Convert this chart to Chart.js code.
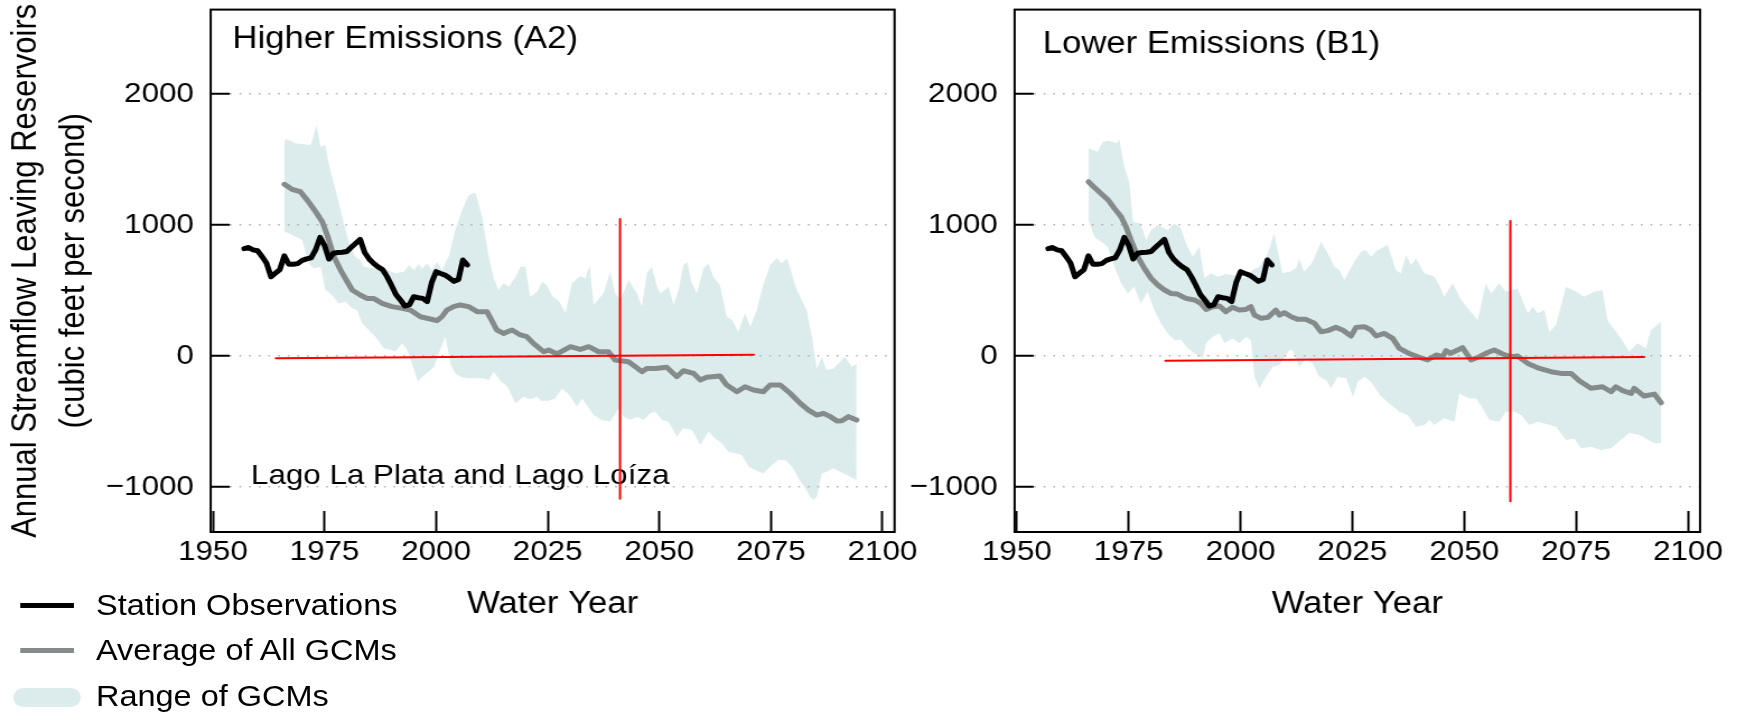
<!DOCTYPE html>
<html lang="en">
<head>
  <meta charset="UTF-8" />
  <title>Annual Streamflow Leaving Reservoirs</title>
  <script src="https://cdn.jsdelivr.net/npm/chart.js"></script>
  <style>
    html, body {
      margin: 0;
      padding: 0;
      background: #fff;
    }
    body {
      width: 1744px;
      height: 712px;
      overflow: hidden;
      font-family: "Liberation Sans", Arial, Helvetica, sans-serif;
    }
    /* the source figure is a little wider than tall, so draw narrow and widen */
    #stage {
      position: absolute;
      left: 0;
      top: 0;
      width: 1557px;
      height: 712px;
      transform: scaleX(1.12);
      transform-origin: 0 0;
    }
    #stage canvas {
      position: absolute;
      top: 0;
    }
    #leftPanel { left: 0; }
    #rightPanel { left: 790px; }
    .swatch {
      position: absolute;
    }
    .legend-text {
      position: absolute;
      left: 85.7px;
      font-size: 29px;
      line-height: 34px;
      color: #000;
      white-space: nowrap;
    }
  </style>
</head>
<body>

<div id="stage">
  <canvas id="leftPanel" width="830" height="712"></canvas>
  <canvas id="rightPanel" width="767" height="712"></canvas>

  <div class="swatch" style="left:17.9px; top:603.3px; width:47.9px; height:5px; background:#000;"></div>
  <div class="legend-text" style="top:587.6px;">Station Observations</div>
  <div class="swatch" style="left:17.9px; top:648.3px; width:47.9px; height:5px; background:#858b8a;"></div>
  <div class="legend-text" style="top:632.9px;">Average of All GCMs</div>
  <div class="swatch" style="left:12px; top:688.3px; width:59.8px; height:18.4px; border-radius:9px; background:#dcecec;"></div>
  <div class="legend-text" style="top:679.2px;">Range of GCMs</div>
</div>

<script>
  const xTicks = [1950, 1975, 2000, 2025, 2050, 2075, 2100];
  const yTicks = [-1000, 0, 1000, 2000];

  // station observations (same record in both panels)
  const obsYears = [1957, 1958, 1959, 1960, 1961, 1962, 1963, 1964, 1965, 1966,
    1967, 1968, 1969, 1970, 1971, 1972, 1973, 1974, 1975, 1976,
    1977, 1978, 1979, 1980, 1981, 1982, 1983, 1984, 1985, 1986,
    1987, 1988, 1989, 1990, 1991, 1992, 1993, 1994, 1995, 1996,
    1997, 1998, 1999, 2000, 2001, 2002, 2003, 2004, 2005, 2006, 2007];
  const obsValues = [820, 828, 810, 803, 760, 710, 605, 632, 660, 765,
    700, 700, 705, 730, 742, 750, 810, 905, 845, 740,
    785, 790, 792, 798, 830, 860, 890, 790, 740, 707,
    680, 660, 606, 540, 470, 428, 382, 390, 453, 445,
    440, 415, 560, 644, 630, 618, 595, 570, 585, 733, 695];

  // Higher Emissions (A2)
  const a2MeanYears = [1966, 1967.7, 1969.6, 1971.1, 1973, 1974.5, 1975.6, 1977.1, 1978.6, 1980.1,
    1981.2, 1983, 1984.5, 1986, 1987.9, 1990.1, 1992.4, 1994.2, 1996.5, 1998.7,
    2000.2, 2001.3, 2002.4, 2003.9, 2005.4, 2007.3, 2009.2, 2011.4, 2013.6, 2015.1,
    2017, 2018.9, 2020.3, 2021.8, 2024.1, 2025.2, 2027.1, 2030.1, 2032.3, 2034.2,
    2036.4, 2038.6, 2040.1, 2043.1, 2044.6, 2046.1, 2047.2, 2049.1, 2051.7, 2053.9,
    2055.4, 2057.7, 2059.2, 2060.6, 2063.6, 2065.1, 2067.4, 2069.2, 2071.1, 2073.3,
    2074.8, 2077.1, 2079.3, 2081.6, 2083.4, 2085.3, 2086.8, 2088.3, 2089.8, 2090.9,
    2092.4, 2094.2];
  const a2MeanValues = [1310, 1272, 1254, 1191, 1102, 1025, 924, 758, 656, 567,
    504, 466, 440, 440, 402, 377, 364, 351, 300, 283,
    270, 300, 351, 377, 390, 377, 339, 339, 199, 173,
    199, 161, 148, 97, 33, 46, 16, 72, 51, 72,
    33, 33, -30, -43, -81, -119, -94, -94, -86, -157,
    -112, -132, -183, -162, -152, -221, -272, -234, -259, -272,
    -221, -221, -284, -361, -412, -450, -437, -462, -495, -493,
    -462, -488];

  const a2UpperYears = [1966, 1967, 1968.5, 1970, 1971.9, 1972.6, 1973.2, 1974.1, 1975.2, 1976,
    1977.5, 1978.6, 1979.7, 1980.8, 1981.9, 1983, 1983.8, 1985.7, 1987.2, 1989,
    1990.9, 1992.8, 1993.9, 1995, 1996.1, 1996.9, 1998, 1999.1, 2000.2, 2001.3,
    2002.8, 2004.3, 2005.8, 2007.3, 2008.8, 2010.3, 2011.8, 2012.9, 2014, 2015.1,
    2016.3, 2017.8, 2018.9, 2020, 2021.1, 2022.6, 2023.7, 2024.8, 2026, 2027.5,
    2029, 2030.4, 2032.3, 2033.4, 2034.4, 2035.3, 2037.5, 2039, 2040.1, 2041.3,
    2043.1, 2045, 2046.1, 2047.2, 2048.3, 2049.5, 2050.2, 2052.1, 2053.2, 2054.3,
    2055.4, 2056.2, 2057.3, 2058.4, 2059.9, 2061, 2062.1, 2063.6, 2065.1, 2066.3,
    2067.7, 2069.2, 2070.4, 2071.8, 2073.3, 2074.8, 2076.3, 2077.4, 2078.6, 2080.8,
    2083, 2084.2, 2085.3, 2086.4, 2087.5, 2089, 2090.5, 2091.6, 2093.1, 2094.2];
  const a2UpperValues = [1653, 1648, 1623, 1618, 1610, 1686, 1763, 1597, 1610, 1457,
    1267, 1114, 961, 834, 758, 733, 682, 669, 682, 656,
    631, 644, 694, 656, 702, 669, 707, 656, 720, 656,
    758, 961, 1114, 1229, 1246, 1063, 758, 593, 504, 555,
    529, 606, 682, 682, 453, 491, 567, 540, 460, 420,
    330, 555, 611, 593, 695, 389, 479, 644, 479, 428,
    580, 479, 377, 631, 682, 529, 479, 529, 389, 504,
    695, 720, 555, 479, 669, 707, 606, 542, 300, 275,
    186, 326, 224, 351, 542, 695, 746, 707, 746, 504,
    351, 148, -94, -5, -107, -94, -43, -5, -81, -56];

  const a2LowerYears = [1966, 1967, 1968.5, 1970, 1971.5, 1972.6, 1974.1, 1975.2, 1976.7, 1978.2,
    1979.7, 1981.2, 1982.3, 1983.4, 1984.9, 1986.4, 1988.3, 1989.8, 1990.9, 1992.4,
    1993.5, 1994.6, 1995.9, 1996.9, 1998.3, 1999.6, 2000.9, 2002.1, 2003.2, 2004.3,
    2005.5, 2007.1, 2008.8, 2010.5, 2011.8, 2012.9, 2014.4, 2015.9, 2017.8, 2019.6,
    2021.1, 2022.6, 2023.5, 2025.2, 2026.7, 2028.2, 2029.9, 2031.5, 2032.7, 2035.3,
    2037.1, 2039, 2040.9, 2042, 2043.5, 2045, 2046.5, 2048, 2049.1, 2050.6,
    2052.1, 2053.9, 2055.4, 2057.3, 2059.2, 2061, 2062.5, 2064, 2065.5, 2067,
    2068.5, 2070, 2071.5, 2073.3, 2074.8, 2076.7, 2078.2, 2079.7, 2081.2, 2082.7,
    2083.8, 2084.5, 2085.3, 2086.4, 2087.5, 2089, 2090.5, 2092, 2094.2];
  const a2LowerValues = [950, 936, 911, 885, 707, 669, 682, 504, 466, 402,
    415, 364, 351, 250, 199, 148, 59, 46, 34, 97,
    46, -56, -195, -157, -120, -80, 46, 148, -60, -132,
    -157, -170, -170, -170, -183, -120, -190, -230, -361, -310,
    -330, -310, -340, -340, -323, -250, -297, -386, -323, -450,
    -488, -501, -399, -462, -488, -462, -488, -437, -424, -488,
    -501, -615, -551, -564, -679, -577, -628, -666, -729, -742,
    -755, -844, -869, -895, -844, -793, -793, -844, -933, -1009,
    -1073, -1098, -1073, -895, -882, -857, -882, -908, -946];

  const a2CrossYears = [1964.1, 2071.2];
  const a2CrossValues = [-17, 11];
  const a2MarkYears = [2041.2, 2041.2];
  const a2MarkValues = [1046, -1088];

  // Lower Emissions (B1)
  const b1MeanYears = [1966, 1967.3, 1968.8, 1970.3, 1971.8, 1973.3, 1974.4, 1975.5, 1977, 1978.5,
    1980, 1981.5, 1983, 1984.4, 1985.9, 1987.8, 1989.7, 1991.1, 1992.3, 1993.8,
    1995.3, 1996.7, 1998.2, 1999.7, 2001.2, 2002.3, 2003.1, 2004.6, 2006.1, 2007.9,
    2008.7, 2009.8, 2011.3, 2012.8, 2014.6, 2016.5, 2018, 2019.5, 2021.3, 2022.8,
    2024.7, 2025.8, 2027.7, 2029.1, 2030.3, 2032.1, 2034, 2035.5, 2037.3, 2039.6,
    2041.8, 2043.7, 2045.2, 2045.9, 2047, 2049.6, 2051.5, 2053.4, 2054.8, 2056.7,
    2058.6, 2060.4, 2061.9, 2064.2, 2066.8, 2069.4, 2071.6, 2073.9, 2075.7, 2078.3,
    2080.9, 2082.8, 2083.9, 2085.4, 2087.3, 2088, 2090.2, 2092.5, 2094];
  const b1MeanValues = [1330, 1287, 1241, 1195, 1127, 1063, 987, 885, 758, 669,
    593, 542, 504, 478, 473, 440, 428, 402, 356, 377,
    382, 338, 372, 351, 356, 377, 313, 288, 295, 351,
    313, 331, 300, 280, 280, 250, 186, 194, 219, 199,
    153, 219, 224, 199, 153, 173, 135, 59, 26, -5,
    -30, 8, -5, 41, 21, 64, -30, -5, 21, 46,
    16, -5, 0, -56, -94, -119, -132, -132, -188, -246,
    -234, -272, -234, -264, -285, -246, -305, -290, -356];

  const b1UpperYears = [1966, 1968, 1969.2, 1970.7, 1972.2, 1972.9, 1974, 1975.1, 1976, 1977.7,
    1978.9, 1980, 1981.5, 1983.7, 1985.2, 1986.7, 1987.8, 1989.3, 1990.8, 1991.9,
    1993.4, 1994.9, 1996.7, 1998.2, 1999.7, 2001.2, 2002.7, 2004.2, 2006.1, 2007.5,
    2008.7, 2009.4, 2010.9, 2012.4, 2013.1, 2014.2, 2016.1, 2018, 2019.5, 2021,
    2022.1, 2023.2, 2025.4, 2026.9, 2028, 2029.2, 2030.6, 2032.9, 2034.7, 2035.8,
    2037, 2038.1, 2039.2, 2041.1, 2043.3, 2044.4, 2045.5, 2047.4, 2049.3, 2051.1,
    2053, 2054.8, 2056, 2057.8, 2059.3, 2061.9, 2064.2, 2065.3, 2066.4, 2067.9,
    2069, 2070.5, 2072.7, 2075, 2076.8, 2079.1, 2080.9, 2082, 2085, 2086.9,
    2088.7, 2090.6, 2091.7, 2094];
  const b1UpperValues = [1585, 1559, 1635, 1643, 1623, 1653, 1445, 1330, 1025, 1012,
    885, 961, 1000, 961, 1012, 974, 860, 758, 834, 593,
    631, 606, 626, 618, 606, 593, 656, 682, 784, 936,
    745, 631, 644, 669, 745, 644, 720, 872, 784, 682,
    656, 580, 720, 796, 809, 758, 809, 847, 656, 631,
    771, 694, 745, 631, 606, 542, 453, 555, 428, 351,
    275, 555, 478, 555, 491, 516, 326, 377, 326, 351,
    186, 237, 529, 491, 453, 491, 504, 275, 135, 34,
    97, 59, 199, 262];

  const b1LowerYears = [1966, 1967.3, 1968.8, 1970.3, 1971.8, 1973.3, 1974.8, 1976.2, 1977.7, 1979.2,
    1980.7, 1982.2, 1983.7, 1985.2, 1986.7, 1988.2, 1989.7, 1991.5, 1992.3, 1993.8,
    1995.3, 1996.4, 1998.2, 1999.7, 2001.2, 2002.3, 2003.1, 2004.2, 2005.7, 2007.2,
    2008.7, 2010.9, 2011.6, 2013.1, 2014.6, 2016.1, 2017.6, 2019.1, 2020.2, 2021.7,
    2023.6, 2025.1, 2026.2, 2027.7, 2029.2, 2031.2, 2033.2, 2035.5, 2037.3, 2039.2,
    2041.1, 2042.2, 2043.3, 2045.5, 2047.8, 2048.9, 2051.1, 2052.6, 2053.7, 2055.6,
    2057.8, 2059.3, 2061.2, 2062.7, 2064.5, 2066.4, 2067.9, 2070.5, 2072.7, 2074.6,
    2076.1, 2078.3, 2080.5, 2082.8, 2085, 2086.9, 2089.1, 2090.6, 2092.5, 2094];
  const b1LowerValues = [1038, 911, 873, 834, 682, 555, 478, 529, 402, 491,
    351, 250, 173, 122, 122, 59, 21, -18, 97, 148,
    173, 97, 135, 97, 148, 122, -157, -246, -157, -81,
    -68, 46, 46, -81, -18, -56, -157, -183, -246, -157,
    -170, -310, -196, -157, -200, -300, -361, -424, -450, -539,
    -526, -488, -526, -475, -501, -285, -323, -323, -374, -488,
    -501, -424, -424, -450, -526, -501, -514, -539, -640, -628,
    -704, -691, -717, -704, -640, -585, -602, -628, -666, -661];

  const b1CrossYears = [1983.2, 2090.2];
  const b1CrossValues = [-35, -7];
  const b1MarkYears = [2060.3, 2060.3];
  const b1MarkValues = [1030, -1107];

  const FONT = '"Liberation Sans", Arial, Helvetica, sans-serif';
  const FILL = '#dcecec';
  const GREY = '#858b8a';
  const RED = '#ff0000';

  Chart.defaults.font.family = FONT;
  Chart.defaults.color = '#000';

  const pts = (xs, ys) => xs.map((x, i) => ({ x: x, y: ys[i] }));

  // black box round the plot area
  const framePlugin = {
    id: 'frame',
    afterDatasetsDraw(chart) {
      const { ctx, chartArea: a } = chart;
      ctx.save();
      ctx.strokeStyle = '#000';
      ctx.lineWidth = 2;
      ctx.strokeRect(a.left, a.top, a.right - a.left, a.bottom - a.top);
      ctx.restore();
    }
  };

  // panel labels written inside the plot area
  const panelTextPlugin = {
    id: 'panelText',
    beforeDatasetsDraw(chart, args, opts) {
      const { ctx, chartArea } = chart;
      ctx.save();
      ctx.fillStyle = '#000';
      ctx.textBaseline = 'alphabetic';
      ctx.textAlign = 'left';
      (opts.items || []).forEach(it => {
        ctx.font = it.size + 'px ' + FONT;
        ctx.fillText(it.text, chartArea.left + it.dx, it.y);
      });
      ctx.restore();
    }
  };

  // fixed axis boxes, no extra room for overhanging labels
  function fixBox(scale, size) {
    if (scale.isHorizontal()) scale.height = size;
    else scale.width = size;
    scale.paddingTop = 0;
    scale.paddingBottom = 0;
    scale.paddingLeft = 0;
    scale.paddingRight = 0;
  }

  function makePanel(id, cfg) {
    const line = (data, color, width, order) => ({
      data: data,
      borderColor: color,
      borderWidth: width,
      pointRadius: 0,
      fill: false,
      tension: 0,
      borderJoinStyle: 'round',
      borderCapStyle: 'round',
      order: order
    });

    return new Chart(document.getElementById(id), {
      type: 'line',
      data: {
        datasets: [
          {
            data: pts(cfg.upper[0], cfg.upper[1]),
            borderColor: 'rgba(0,0,0,0)',
            borderWidth: 0,
            backgroundColor: FILL,
            pointRadius: 0,
            fill: '+1',
            tension: 0,
            order: 5
          },
          {
            data: pts(cfg.lower[0], cfg.lower[1]),
            borderColor: 'rgba(0,0,0,0)',
            borderWidth: 0,
            pointRadius: 0,
            fill: false,
            tension: 0,
            order: 6
          },
          line(pts(cfg.mean[0], cfg.mean[1]), GREY, 5, 3),
          line(pts(obsYears, obsValues), '#000', 5, 2),
          line(pts(cfg.cross[0], cfg.cross[1]), RED, 2, 1),
          line(pts(cfg.mark[0], cfg.mark[1]), RED, 2, 1)
        ]
      },
      options: {
        responsive: false,
        animation: false,
        events: [],
        layout: {
          padding: { left: 0, right: cfg.padRight, top: 9.6, bottom: 80 }
        },
        plugins: {
          legend: { display: false },
          tooltip: { enabled: false },
          filler: { drawTime: 'beforeDraw' },
          panelText: { items: cfg.texts }
        },
        scales: {
          x: {
            type: 'linear',
            position: 'bottom',
            min: 1949.5,
            max: 2102.7,
            afterBuildTicks: s => { s.ticks = xTicks.map(v => ({ value: v })); },
            afterFit: s => fixBox(s, 100),
            grid: {
              drawOnChartArea: false,
              drawTicks: true,
              tickLength: -21,
              tickWidth: 2,
              tickColor: '#000'
            },
            border: { display: false },
            ticks: {
              autoSkip: false,
              maxRotation: 0,
              padding: 24,
              font: { size: 28 },
              callback: v => String(v)
            },
            title: {
              display: true,
              text: 'Water Year',
              font: { size: 31 },
              padding: { top: 0, bottom: 9.4 }
            }
          },
          y: {
            type: 'linear',
            position: 'left',
            min: -1342,
            max: 2643,
            afterBuildTicks: s => { s.ticks = yTicks.map(v => ({ value: v })); },
            afterFit: s => fixBox(s, cfg.yWidth),
            grid: {
              color: '#b3b3b3',
              lineWidth: 1.5,
              drawTicks: true,
              tickLength: -17,
              tickWidth: 2,
              tickColor: '#000'
            },
            border: { display: false, dash: [1.6, 7] },
            ticks: {
              padding: 32,
              font: { size: 28 },
              callback: v => (v < 0 ? '\u2212' + Math.abs(v) : String(v))
            },
            title: {
              display: cfg.showYTitle,
              text: ['Annual Streamflow Leaving Reservoirs', '(cubic feet per second)'],
              font: { size: 31, lineHeight: 1.4 },
              padding: { top: 1.3, bottom: 0 }
            }
          }
        }
      },
      plugins: [panelTextPlugin, framePlugin]
    });
  }

  makePanel('leftPanel', {
    upper: [a2UpperYears, a2UpperValues],
    lower: [a2LowerYears, a2LowerValues],
    mean: [a2MeanYears, a2MeanValues],
    cross: [a2CrossYears, a2CrossValues],
    mark: [a2MarkYears, a2MarkValues],
    yWidth: 188.1,
    padRight: 31.3,
    showYTitle: true,
    texts: [
      { text: 'Higher Emissions (A2)', dx: 19.5, y: 48.2, size: 31 },
      { text: 'Lago La Plata and Lago Loíza', dx: 36, y: 484, size: 28 }
    ]
  });

  makePanel('rightPanel', {
    upper: [b1UpperYears, b1UpperValues],
    lower: [b1LowerYears, b1LowerValues],
    mean: [b1MeanYears, b1MeanValues],
    cross: [b1CrossYears, b1CrossValues],
    mark: [b1MarkYears, b1MarkValues],
    yWidth: 115.9,
    padRight: 39.1,
    showYTitle: false,
    texts: [
      { text: 'Lower Emissions (B1)', dx: 25, y: 52.5, size: 31 }
    ]
  });
</script>

</body>
</html>
